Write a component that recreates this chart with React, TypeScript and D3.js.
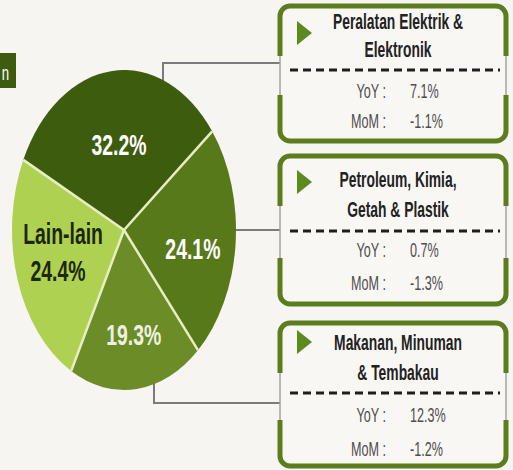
import React from "react";
import * as d3 from "d3";

// --- data ---
const sliceLabels = ["32.2%", "24.1%", "19.3%", "24.4%"];
const sliceValues = [32.2, 24.1, 19.3, 24.4];
const sliceNames = ["", "", "", "Lain-lain"];
const sliceColors = ["#3e5c0e", "#58791a", "#6c8c27", "#afd152"];
const sliceTextColors = ["#ffffff", "#ffffff", "#eef1e2", "#1b2808"];

const sectorTitles = [
  ["Peralatan Elektrik &", "Elektronik"],
  ["Petroleum, Kimia,", "Getah & Plastik"],
  ["Makanan, Minuman", "& Tembakau"],
];
const yoyValues = ["7.1%", "0.7%", "12.3%"];
const momValues = ["-1.1%", "-1.3%", "-1.2%"];

// --- layout ---
const W = 513;
const H = 470;
const BG = "#f7f5f1";
const cx = 124;
const cy = 230;
const ry = 160;
const rx = 112;
const pieStart = -64 * (Math.PI / 180);

const boxX0 = 280;
const boxX1 = 506;
const boxLayout = [
  { top: 6, bottom: 141, t1: 29, t2: 57, dash: 70, r1: 98, r2: 128, tri: 33 },
  { top: 156, bottom: 304, t1: 187, t2: 217, dash: 231, r1: 257, r2: 290, tri: 182 },
  { top: 323, bottom: 466, t1: 350, t2: 380, dash: 393, r1: 422, r2: 456, tri: 342 },
];
const GREEN = "#5b7d1d";
const FONT = "'Liberation Sans', Arial, sans-serif";

// the source picture is squeezed horizontally, so text is drawn with an x scale
function SText({ x, y, sx = 0.63, children, ...rest }: any) {
  return (
    <text transform={`translate(${x},${y}) scale(${sx},1)`} fontFamily={FONT} {...rest}>
      {children}
    </text>
  );
}

function Box({ i }: { i: number }) {
  const b = boxLayout[i];
  const r = 10;
  const topLen = 50;
  const botLen = 46;
  const top =
    `M${boxX0},${b.top + topLen} V${b.top + r} A${r},${r} 0 0 1 ${boxX0 + r},${b.top}` +
    ` H${boxX1 - r} A${r},${r} 0 0 1 ${boxX1},${b.top + r} V${b.top + topLen}`;
  const bot =
    `M${boxX0},${b.bottom - botLen} V${b.bottom - r} A${r},${r} 0 0 0 ${boxX0 + r},${b.bottom}` +
    ` H${boxX1 - r} A${r},${r} 0 0 0 ${boxX1},${b.bottom - r} V${b.bottom - botLen}`;
  const midX = 398;
  const rowProps = { fontSize: 21, sx: 0.6, fill: "#4e4e4e" };
  return (
    <g>
      <rect
        x={boxX0}
        y={b.top}
        width={boxX1 - boxX0}
        height={b.bottom - b.top}
        rx={r}
        fill="#f9f7f4"
        stroke="#a3a3a3"
        strokeWidth={1.5}
      />
      <path d={top} fill="none" stroke={GREEN} strokeWidth={5} />
      <path d={bot} fill="none" stroke={GREEN} strokeWidth={5} />
      <path d={`M297,${b.tri - 12} L312,${b.tri} L297,${b.tri + 12} Z`} fill="#5c8a1f" />
      <SText x={midX} y={b.t1} textAnchor="middle" fontSize={22} fontWeight="bold" fill="#222">
        {sectorTitles[i][0]}
      </SText>
      <SText x={midX} y={b.t2} textAnchor="middle" fontSize={22} fontWeight="bold" fill="#222">
        {sectorTitles[i][1]}
      </SText>
      <line
        x1={290}
        x2={500}
        y1={b.dash}
        y2={b.dash}
        stroke="#1e1e1e"
        strokeWidth={3}
        strokeDasharray="8 5"
      />
      <SText x={386} y={b.r1} textAnchor="end" {...rowProps}>
        YoY :
      </SText>
      <SText x={410} y={b.r1} {...rowProps}>
        {yoyValues[i]}
      </SText>
      <SText x={386} y={b.r2} textAnchor="end" {...rowProps}>
        MoM :
      </SText>
      <SText x={410} y={b.r2} {...rowProps}>
        {momValues[i]}
      </SText>
    </g>
  );
}

export default function App() {
  const arcs = d3
    .pie<number>()
    .sort(null)
    .startAngle(pieStart)
    .endAngle(pieStart + 2 * Math.PI)(sliceValues);
  const arcGen = d3.arc<d3.PieArcDatum<number>>().innerRadius(0).outerRadius(ry);
  const labelArc = d3.arc<d3.PieArcDatum<number>>().innerRadius(0).outerRadius(ry * 1.2);

  const edge = (a: number) => [cx + rx * Math.sin(a), cy - ry * Math.cos(a)];
  const pieText = { sx: 0.67, textAnchor: "middle", fontSize: 29, fontWeight: "bold" };

  return (
    <svg
      width={W}
      height={H}
      style={{ position: "absolute", left: 0, top: 0, display: "block" }}
    >
      <rect width={W} height={H} fill={BG} />

      {/* cut-off title tag */}
      <rect x={0} y={53} width={16} height={35} fill="#3e5c10" />
      <SText x={9} y={80} textAnchor="end" fontSize={21} fill="#fff">
        n
      </SText>

      {/* connectors */}
      <g fill="none" stroke="#7b7b7b" strokeWidth={2}>
        <path d={`M163,85 V63 H${boxX0}`} />
        <path d={`M220,230 H${boxX0}`} />
        <path d={`M154,380 V403 H${boxX0}`} />
      </g>

      {/* pie */}
      <g transform={`translate(${cx},${cy}) scale(${rx / ry},1)`}>
        {arcs.map((a, i) => (
          <path key={i} d={arcGen(a) || ""} fill={sliceColors[i]} />
        ))}
      </g>
      {arcs.map((a, i) => {
        const [ex, ey] = edge(a.startAngle);
        return (
          <line key={i} x1={cx} y1={cy} x2={ex} y2={ey} stroke="#e6efc4" strokeWidth={2.5} />
        );
      })}
      {arcs.map((a, i) => {
        const [lx, ly] = labelArc.centroid(a);
        const x = cx + lx * (rx / ry);
        const y = cy + ly + 10;
        if (sliceNames[i]) {
          return (
            <g key={i}>
              <SText x={x + 3} y={y - 26} {...pieText} fill={sliceTextColors[i]}>
                {sliceNames[i]}
              </SText>
              <SText x={x - 2} y={y + 11} {...pieText} fill={sliceTextColors[i]}>
                {sliceLabels[i]}
              </SText>
            </g>
          );
        }
        return (
          <SText key={i} x={x + 2} y={y + 10} {...pieText} fill={sliceTextColors[i]}>
            {sliceLabels[i]}
          </SText>
        );
      })}

      {sectorTitles.map((_, i) => (
        <Box key={i} i={i} />
      ))}
    </svg>
  );
}
